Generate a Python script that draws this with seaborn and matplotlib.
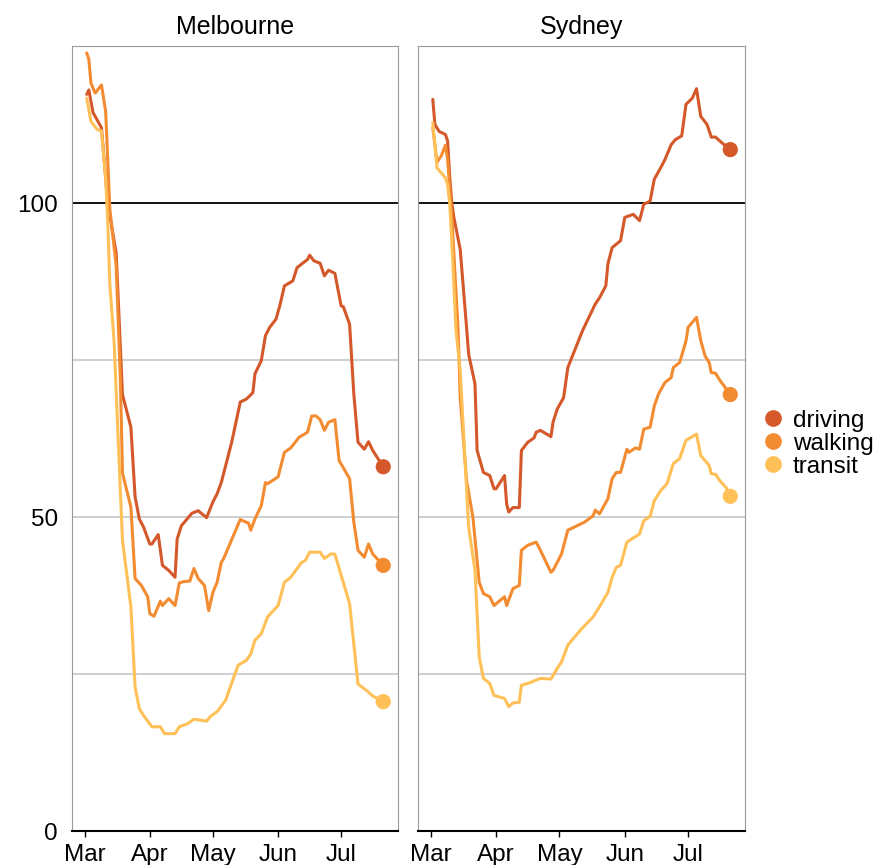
import numpy as np
import pandas as pd
import matplotlib
matplotlib.use('Agg')
import matplotlib.pyplot as plt
from matplotlib.lines import Line2D
import seaborn as sns

# day offsets are counted from 1 March 2020
start = pd.Timestamp('2020-03-01')

mel_driving_days = [1, 2, 4, 8, 11, 15, 18, 22, 24, 26, 28, 31, 32, 35, 37, 40, 43, 44, 46, 50, 51, 54, 58,
                    61, 63, 65, 70, 74, 77, 80, 81, 84, 86, 88, 91, 93, 95, 99, 101, 104, 106, 107, 109,
                    112, 114, 116, 119, 122, 123, 126, 128, 130, 133, 135, 137, 142]
mel_driving_vals = [117.3, 118, 114.4, 112, 100, 92, 69.5, 64.3, 53.2, 49.7, 48.4, 45.7, 45.7, 47.2, 42.3,
                    41.5, 40.4, 46.5, 48.6, 50.2, 50.6, 51, 49.9, 52.4, 53.7, 55.5, 62, 68.3, 68.8, 69.8,
                    72.8, 74.9, 78.9, 80.2, 81.5, 83.9, 86.8, 87.6, 89.7, 90.5, 91, 91.7, 90.8, 90.4, 88.4,
                    89.3, 88.8, 83.6, 83.5, 80.7, 69.6, 61.9, 60.8, 62, 60.6, 58]

mel_walking_days = [1, 2, 3, 5, 8, 10, 12, 14, 15, 17, 18, 22, 24, 27, 30, 31, 33, 36, 37, 40, 43, 45, 47,
                    50, 52, 54, 57, 59, 61, 63, 65, 66, 74, 78, 79, 81, 84, 86, 87, 92, 95, 98, 102, 106,
                    108, 110, 112, 114, 116, 119, 121, 126, 128, 130, 133, 135, 137, 142]
mel_walking_vals = [123.9, 122.9, 119.1, 117.5, 118.8, 114.6, 99, 93, 90, 72, 57, 51.6, 40.2, 39.1, 37.3,
                    34.6, 34.2, 36.6, 35.9, 37, 35.9, 39.5, 39.7, 39.8, 41.8, 40.2, 39.1, 35.1, 38, 39.6,
                    42.8, 43.3, 49.6, 49, 47.9, 49.7, 51.8, 55.5, 55.3, 56.4, 60.3, 61, 62.7, 63.5, 66.1,
                    66.1, 65.5, 63.8, 65.1, 65.5, 59, 56.1, 49.2, 44.7, 43.6, 45.7, 44.1, 42.3]

mel_transit_days = [1, 3, 6, 8, 10, 11, 12, 14, 16, 18, 22, 24, 26, 28, 32, 36, 38, 43, 45, 49, 52, 58, 60,
                    63, 67, 73, 77, 79, 81, 84, 87, 92, 95, 98, 103, 105, 107, 112, 114, 117, 119, 126,
                    130, 134, 137, 142]
mel_transit_vals = [116.7, 113, 111.7, 111.5, 104, 97, 87, 78, 62, 46.3, 35.7, 22.9, 19.5, 18.4, 16.6, 16.6,
                    15.5, 15.5, 16.6, 17.1, 17.8, 17.5, 18.3, 19, 20.8, 26.4, 27.2, 28.2, 30.4, 31.4, 34.1,
                    35.9, 39.6, 40.4, 42.7, 43.1, 44.4, 44.4, 43.4, 44.1, 44.1, 36.2, 23.4, 22.4, 21.5, 20.6]

syd_driving_days = [1, 2, 4, 7, 8, 9, 10, 11, 14, 17, 18, 21, 22, 25, 28, 30, 31, 35, 36, 37, 39, 42, 43,
                    46, 49, 50, 52, 57, 58, 60, 63, 65, 72, 75, 78, 80, 83, 84, 86, 90, 92, 96, 99, 101,
                    104, 106, 109, 111, 114, 116, 119, 121, 124, 126, 128, 131, 133, 135, 138, 142]
syd_driving_vals = [116.5, 112.5, 111.4, 110.9, 109.9, 104.3, 100, 97.7, 92.6, 80.2, 75.9, 71.2, 60.6, 57.1,
                    56.6, 54.5, 54.5, 56.6, 52.1, 50.8, 51.5, 51.5, 60.6, 61.9, 62.6, 63.5, 63.8, 62.8,
                    65.1, 67.2, 69, 73.8, 79.7, 81.8, 83.9, 84.9, 86.8, 90.3, 92.9, 94, 97.7, 98.2, 97.2,
                    99.8, 100.3, 103.8, 105.6, 106.9, 109.3, 110.1, 110.7, 115.7, 116.7, 118.2, 113.8,
                    112.5, 110.5, 110.5, 109.6, 108.5]

syd_walking_days = [1, 3, 5, 7, 8, 10, 13, 14, 17, 20, 23, 25, 28, 30, 35, 36, 39, 42, 43, 46, 50, 52, 57,
                    58, 62, 65, 73, 77, 78, 80, 84, 86, 88, 90, 93, 94, 97, 99, 101, 104, 106, 108, 111,
                    114, 115, 118, 121, 122, 126, 128, 130, 132, 133, 135, 137, 139, 142]
syd_walking_vals = [112, 106.5, 107.5, 109.2, 107, 98, 79.7, 69, 55.8, 50, 39.6, 37.8, 37.3, 35.9, 37.3,
                    35.9, 38.6, 39.1, 44.7, 45.5, 46, 44.7, 41.2, 41.5, 44.1, 47.9, 49.2, 50.2, 51.1, 50.5,
                    52.9, 56.1, 57.1, 57.1, 60.8, 60.3, 61, 60.8, 64, 64.3, 67.7, 69.6, 71.4, 72.2, 73.8,
                    74.6, 78, 80.2, 81.8, 78.1, 75.7, 74.6, 73, 72.9, 71.8, 70.9, 69.5]

syd_transit_days = [1, 3, 7, 8, 9, 10, 12, 14, 18, 21, 23, 25, 28, 30, 35, 37, 39, 42, 43, 46, 52, 57, 60,
                    62, 65, 71, 77, 80, 84, 86, 88, 90, 93, 99, 101, 104, 106, 109, 112, 115, 118, 121,
                    126, 128, 132, 133, 135, 137, 140, 142]
syd_transit_vals = [112.8, 105.6, 104, 103, 100, 94, 79.7, 73.3, 48.4, 41.5, 27.7, 24.3, 23.5, 21.6, 21.1,
                    19.8, 20.4, 20.5, 23.2, 23.5, 24.3, 24.2, 25.9, 26.9, 29.6, 32, 34.1, 35.7, 38, 40.4,
                    42, 42.3, 46, 47.3, 49.4, 50.1, 52.6, 54.2, 55.3, 58.5, 59.3, 62.2, 63.2, 59.8, 58.2,
                    56.9, 56.8, 55.8, 54.7, 53.3]

cities = ['Melbourne', 'Sydney']
modes = ['driving', 'walking', 'transit']
colors = ['#D4582A', '#F38B31', '#FEC057']
month_labels = ['Mar', 'Apr', 'May', 'Jun', 'Jul']

series = {
    ('Melbourne', 'driving'): (mel_driving_days, mel_driving_vals),
    ('Melbourne', 'walking'): (mel_walking_days, mel_walking_vals),
    ('Melbourne', 'transit'): (mel_transit_days, mel_transit_vals),
    ('Sydney', 'driving'): (syd_driving_days, syd_driving_vals),
    ('Sydney', 'walking'): (syd_walking_days, syd_walking_vals),
    ('Sydney', 'transit'): (syd_transit_days, syd_transit_vals),
}

rows = []
for (city, mode), (days, vals) in series.items():
    for d, v in zip(days, vals):
        rows.append({'city': city, 'mode': mode, 'date': start + pd.Timedelta(days=d), 'value': v})
df = pd.DataFrame(rows)

sns.set_style('white')
plt.rcParams['font.family'] = ['Liberation Sans', 'DejaVu Sans']
plt.rcParams['text.color'] = 'black'
plt.rcParams['xtick.color'] = 'black'
plt.rcParams['ytick.color'] = 'black'

fig = plt.figure(figsize=(8.76, 8.65), dpi=100)
palette = dict(zip(modes, colors))
ax_pos = [[0.0822, 0.0393, 0.3721, 0.9075], [0.4772, 0.0393, 0.3733, 0.9075]]

for i, city in enumerate(cities):
    ax = fig.add_axes(ax_pos[i])
    sub = df[df['city'] == city]
    for y in [25, 50, 75]:
        ax.axhline(y, color='#CCCCCC', lw=1.3, zorder=0)
    ax.axhline(100, color='black', lw=1.3, zorder=1)
    sns.lineplot(data=sub, x='date', y='value', hue='mode', hue_order=modes, palette=palette,
                 linewidth=2.2, legend=False, ax=ax, zorder=3)
    last = sub.sort_values('date').groupby('mode').tail(1)
    sns.scatterplot(data=last, x='date', y='value', hue='mode', hue_order=modes, palette=palette,
                    s=120, linewidth=0, legend=False, ax=ax, zorder=4)
    ax.set_xlim(start - pd.Timedelta(days=6), start + pd.Timedelta(days=149))
    ax.set_ylim(0, 125)
    ticks = [pd.Timestamp(f'2020-{m:02d}-01') for m in range(3, 8)]
    ax.set_xticks(ticks)
    ax.set_xticklabels(month_labels)
    ax.set_xlabel('')
    ax.set_ylabel('')
    ax.set_title(city, fontsize=18, pad=9, color='black')
    ax.tick_params(axis='x', length=4, width=1, color='black', pad=5, labelsize=17.5,
                   labelcolor='black', bottom=True)
    if i == 0:
        ax.set_yticks([0, 50, 100])
        ax.tick_params(axis='y', length=0, pad=10, labelsize=17.5, labelcolor='black')
    else:
        ax.set_yticks([])
    for s in ['left', 'right', 'top']:
        ax.spines[s].set_color('#9A9A9A')
        ax.spines[s].set_linewidth(0.8)
    ax.spines['bottom'].set_color('black')
    ax.spines['bottom'].set_linewidth(1.5)

handles = [Line2D([], [], marker='o', linestyle='', markersize=11, color=c) for c in colors]
fig.legend(handles, modes, loc='center left', bbox_to_anchor=(0.855, 0.487), frameon=False,
           fontsize=17.5, handletextpad=0.2, labelspacing=0.05, handlelength=1.2, borderaxespad=0,
           labelcolor='black')

plt.savefig('out.png', dpi=100)
